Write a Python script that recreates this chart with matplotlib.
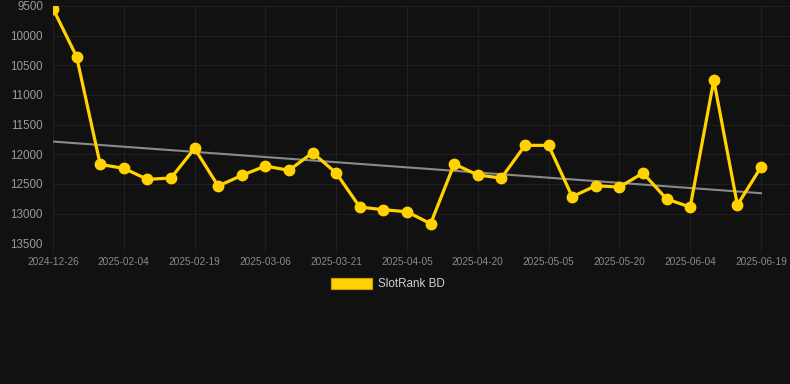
import matplotlib
matplotlib.use("Agg")
import matplotlib.pyplot as plt
import numpy as np
from matplotlib.patches import Patch

dates = ["2024-12-26", "2025-01-10", "2025-01-25", "2025-02-04", "2025-02-09", "2025-02-14",
         "2025-02-19", "2025-02-24", "2025-03-01", "2025-03-06", "2025-03-11", "2025-03-16",
         "2025-03-21", "2025-03-26", "2025-03-31", "2025-04-05", "2025-04-10", "2025-04-15",
         "2025-04-20", "2025-04-25", "2025-04-30", "2025-05-05", "2025-05-10", "2025-05-15",
         "2025-05-20", "2025-05-25", "2025-05-30", "2025-06-04", "2025-06-09", "2025-06-14",
         "2025-06-19"]
ranks = [9545, 10354, 12170, 12237, 12422, 12400, 11900, 12535, 12355, 12198, 12270, 11973,
         12316, 12889, 12934, 12968, 13170, 12164, 12349, 12400, 11849, 11849, 12715, 12530,
         12552, 12316, 12754, 12889, 10748, 12855, 12215]
series_name = "SlotRank BD"
y_ticks = [9500, 10000, 10500, 11000, 11500, 12000, 12500, 13000, 13500]

BG = "#111111"
YEL = "#FFD200"
GRID = "#202020"

plt.rcParams['font.family'] = ['Liberation Sans', 'DejaVu Sans']

fig = plt.figure(figsize=(7.9, 3.84), dpi=100, facecolor=BG)
ax = fig.add_axes([53/790, 1-243.3/384, 1-53/790, (243.3-6)/384])
ax.set_facecolor(BG)

x = np.arange(len(ranks))
slope, intercept = np.polyfit(x, ranks, 1)
ax.plot(x, slope*x + intercept, color="#8a8a8a", lw=1.5, zorder=2)
ax.plot(x, ranks, color=YEL, lw=2.3, marker='o', markersize=7.5, zorder=3,
        solid_joinstyle='miter')

ax.set_ylim(13500, 9500)
ax.set_xlim(0, 30 + 29/23.6)
ax.set_yticks(y_ticks)
ax.set_yticklabels([str(t) for t in y_ticks])
tick_idx = list(range(0, len(dates), 3))
ax.set_xticks(tick_idx)
ax.set_xticklabels([dates[i] for i in tick_idx])

ax.grid(True, color=GRID, lw=0.8)
ax.set_axisbelow(True)
for s in ax.spines.values():
    s.set_visible(False)
ax.tick_params(axis='y', length=0, pad=7.2, labelsize=8.4, labelcolor="#9a9a9a")
ax.tick_params(axis='x', length=7, width=0.8, color=GRID, pad=3, labelsize=7.3,
               labelcolor="#8a8a8a")

handle = Patch(facecolor=YEL, edgecolor="#c9a400", lw=0.8)
leg = fig.legend([handle], [series_name], loc='center', bbox_to_anchor=(388/790, 1-284/384),
                 frameon=False, handlelength=3.5, handleheight=1.1, handletextpad=0.5,
                 fontsize=8.4)
for t in leg.get_texts():
    t.set_color("#d0d0d0")

fig.savefig("out.png", dpi=100, facecolor=BG)
